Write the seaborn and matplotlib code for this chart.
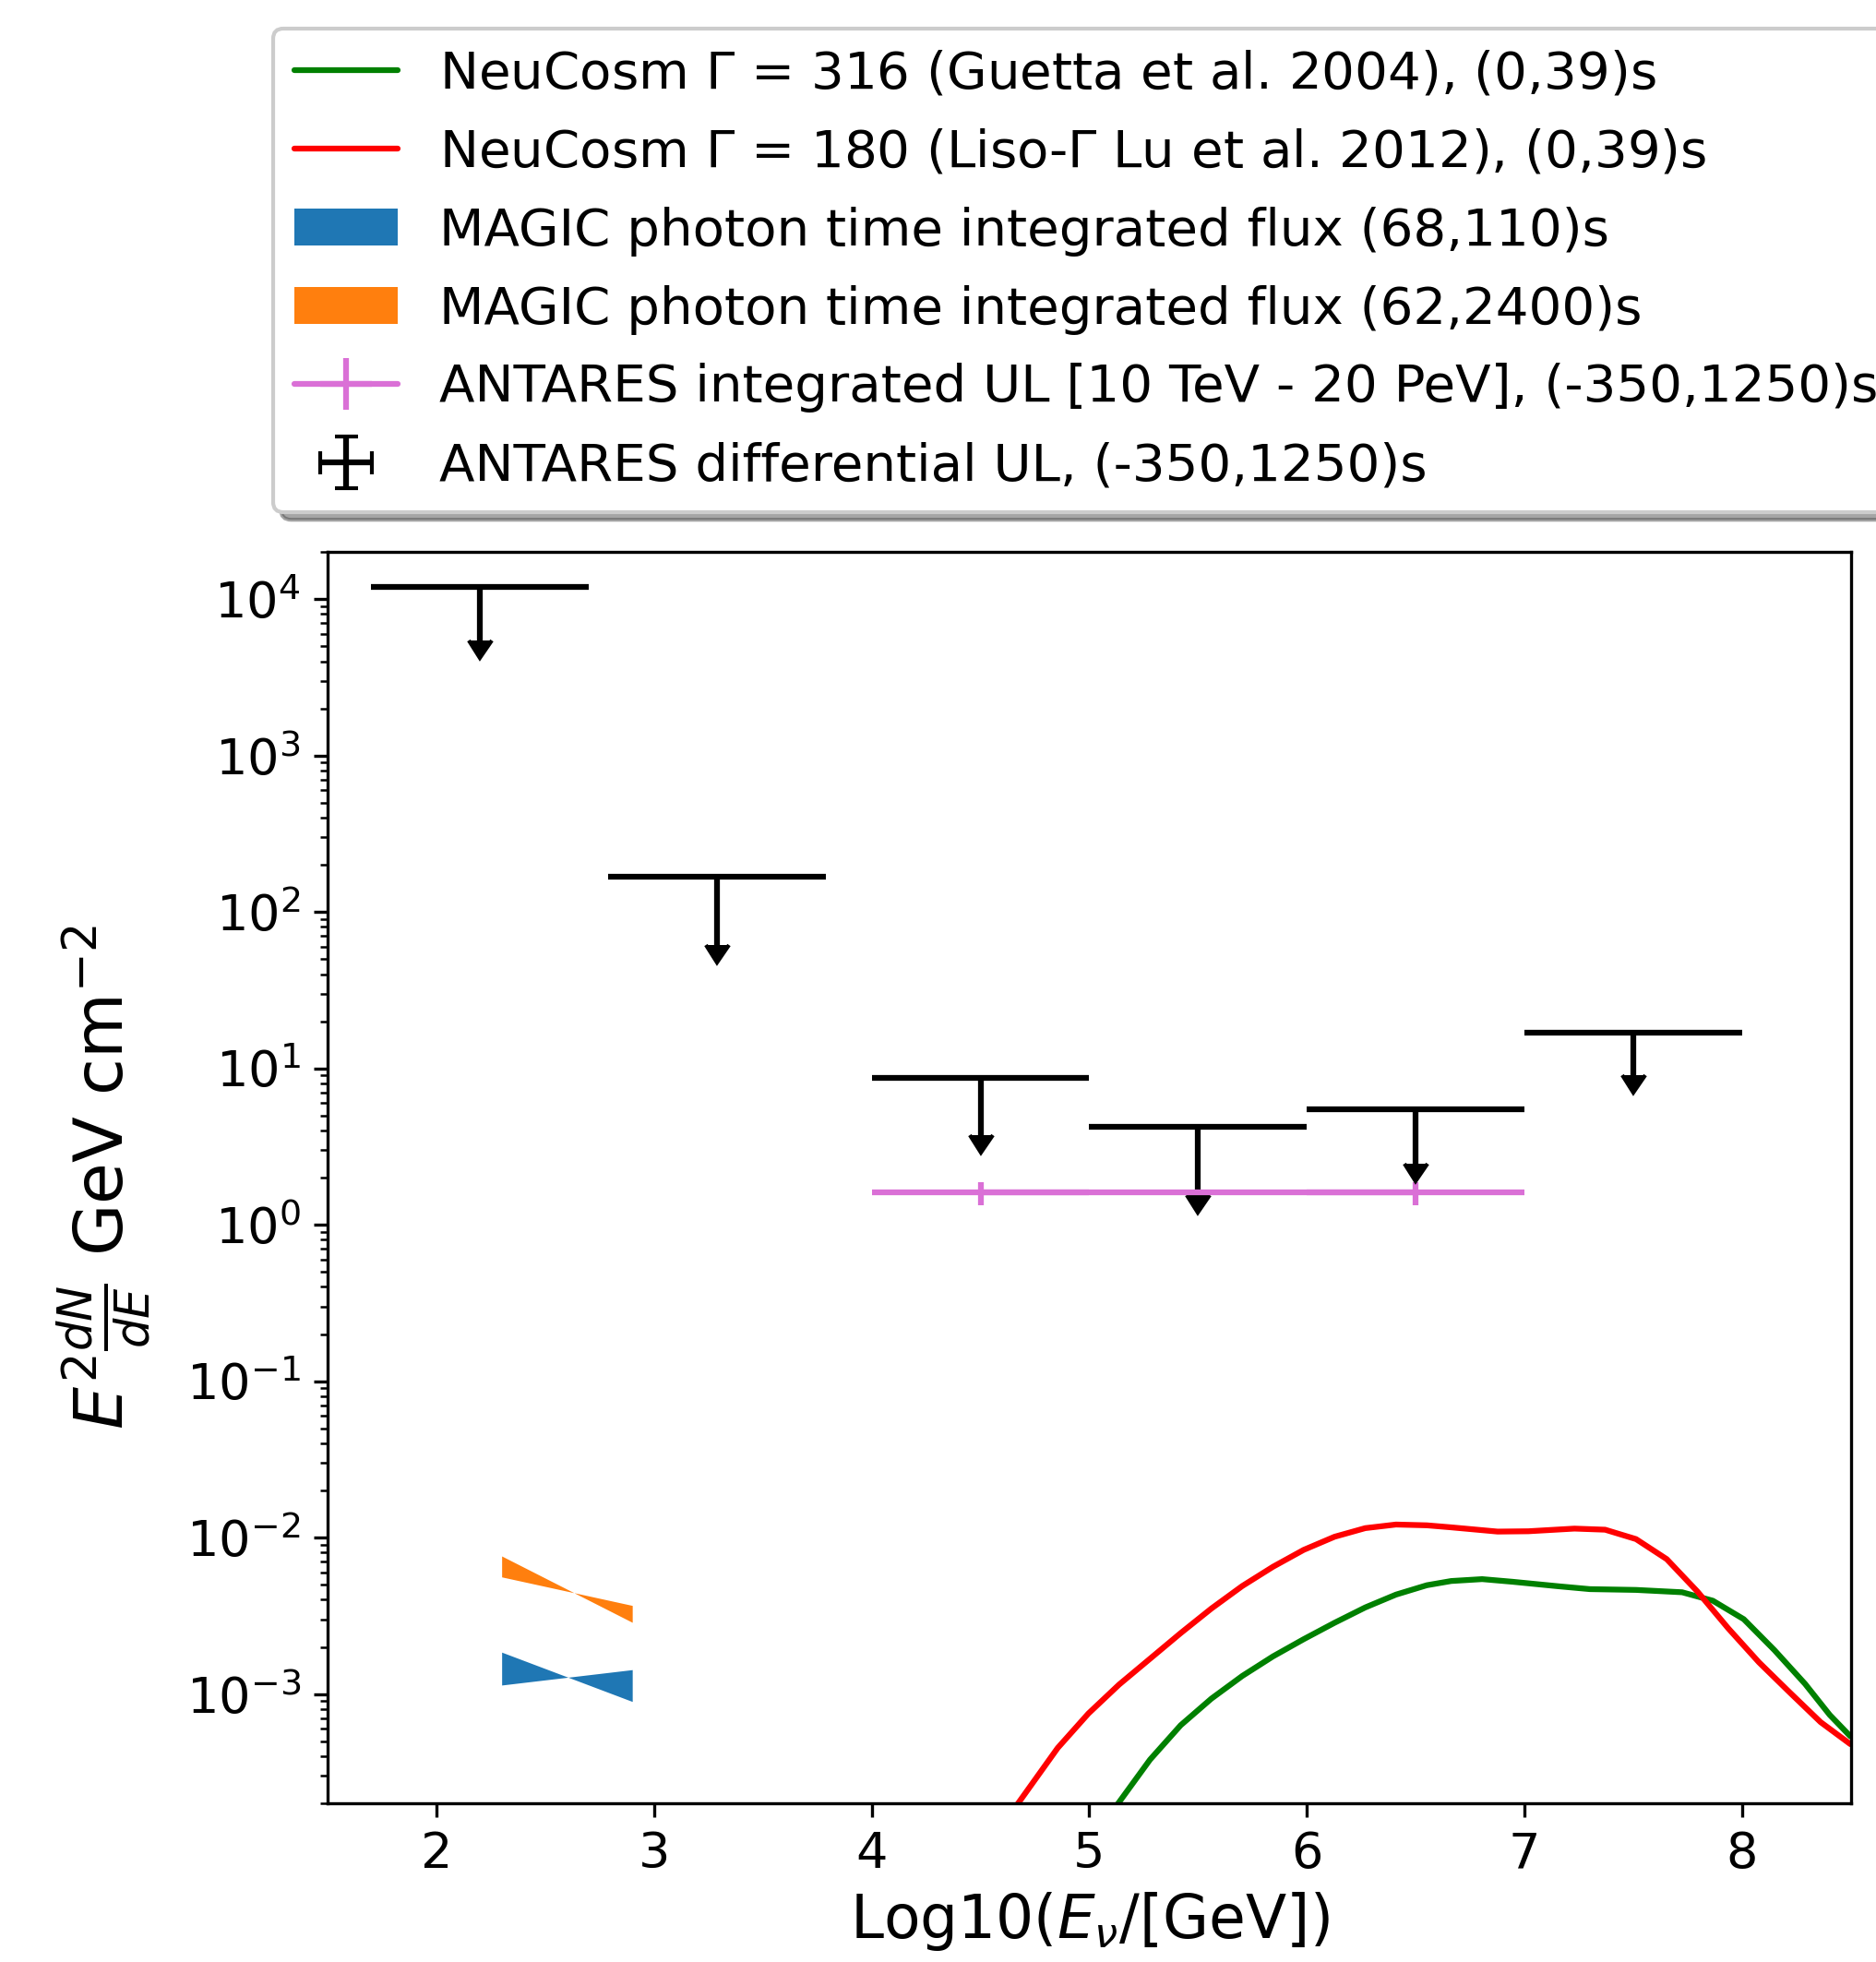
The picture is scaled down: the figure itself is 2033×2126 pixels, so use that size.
import numpy as np
import matplotlib
matplotlib.use("Agg")
import matplotlib.pyplot as plt
import seaborn as sns

# NeuCosm model curves, log10(E) vs log10(E^2 dN/dE)
red_logE = [4.67, 4.855, 4.996, 5.137, 5.279, 5.42, 5.561, 5.703, 5.844, 5.985,
            6.127, 6.268, 6.409, 6.551, 6.663, 6.876, 7.017, 7.229, 7.37, 7.512,
            7.653, 7.794, 7.936, 8.077, 8.218, 8.36, 8.497]
red_logF = [-3.705, -3.345, -3.125, -2.94, -2.775, -2.611, -2.454, -2.31, -2.187, -2.079,
            -1.995, -1.94, -1.917, -1.922, -1.935, -1.962, -1.96, -1.943, -1.95, -2.01,
            -2.138, -2.345, -2.581, -2.798, -2.99, -3.18, -3.321]
green_logE = [5.13, 5.279, 5.42, 5.561, 5.703, 5.844, 5.985, 6.127, 6.268, 6.409,
              6.551, 6.663, 6.805, 6.946, 7.158, 7.3, 7.512, 7.724, 7.865, 8.007,
              8.148, 8.289, 8.402, 8.497]
green_logF = [-3.705, -3.42, -3.2, -3.03, -2.885, -2.76, -2.65, -2.545, -2.447, -2.365,
              -2.305, -2.278, -2.266, -2.283, -2.312, -2.33, -2.335, -2.35, -2.404, -2.522,
              -2.72, -2.936, -3.134, -3.271]

# MAGIC photon bow-ties (two power laws crossing at the pivot)
magic_logE = [2.3, 2.9]
magic_a_68 = [1.85e-3, 8.95e-4]
magic_b_68 = [1.14e-3, 1.43e-3]
magic_a_62 = [7.62e-3, 2.87e-3]
magic_b_62 = [5.6e-3, 3.68e-3]

# ANTARES integrated UL
int_logE = [4.5, 6.5]
int_ul = [1.61, 1.61]
int_xerr = 0.5
int_yerr = 0.27

# ANTARES differential UL
diff_logE = [2.2, 3.29, 4.5, 5.5, 6.5, 7.5]
diff_ul = [1.19e4, 167.6, 8.73, 4.24, 5.45, 16.9]
diff_yerr = [6450, 106, 5.0, 2.7, 3.0, 7.9]
diff_xerr = 0.5

labels = [
    r"NeuCosm $\Gamma$ = 316 (Guetta et al. 2004), (0,39)s",
    r"NeuCosm $\Gamma$ = 180 (Liso-$\Gamma$ Lu et al. 2012), (0,39)s",
    "MAGIC photon time integrated flux (68,110)s",
    "MAGIC photon time integrated flux (62,2400)s",
    "ANTARES integrated UL [10 TeV - 20 PeV], (-350,1250)s",
    "ANTARES differential UL, (-350,1250)s",
]

sns.set_style("ticks")
plt.rcParams['font.family'] = ['DejaVu Sans']
plt.rcParams.update({
    'xtick.major.size': 3.5, 'ytick.major.size': 3.5, 'ytick.minor.size': 2,
    'axes.linewidth': 0.8, 'axes.edgecolor': 'black', 'text.color': 'black',
    'axes.labelcolor': 'black', 'xtick.color': 'black', 'ytick.color': 'black',
})

fig = plt.figure(figsize=(2033 / 300, 2126 / 300), dpi=300)
ax = fig.add_axes([0.1746, 0.0809, 0.8121, 0.6378])

sns.lineplot(x=green_logE, y=10 ** np.array(green_logF), color='green', lw=1.5, ax=ax, legend=False)
sns.lineplot(x=red_logE, y=10 ** np.array(red_logF), color='red', lw=1.5, ax=ax, legend=False)
h_green, h_red = ax.get_lines()[:2]

h_blue = ax.fill_between(magic_logE, magic_a_68, magic_b_68, color='#1f77b4', lw=0)
h_orange = ax.fill_between(magic_logE, magic_a_62, magic_b_62, color='#ff7f0e', lw=0)

h_int = ax.errorbar(int_logE, int_ul, xerr=int_xerr, yerr=int_yerr, color='orchid', lw=1.5)
h_diff = ax.errorbar(diff_logE, diff_ul, xerr=diff_xerr, yerr=diff_yerr, uplims=True,
                     fmt='none', color='black', elinewidth=1.5)

ax.set_yscale('log')
ax.set_xlim(1.5, 8.5)
ax.set_ylim(2e-4, 2e4)
ax.tick_params(labelsize=13)
ax.set_xlabel(r"Log10($E_{\nu}$/[GeV])", fontsize=15.5, labelpad=3)
ax.set_ylabel(r"$E^2\frac{dN}{dE}$ GeV cm$^{-2}$", fontsize=17.5, labelpad=8.5)

ax.legend([h_green, h_red, h_blue, h_orange, h_int, h_diff], labels,
          loc='lower left', bbox_to_anchor=(0.1456, 0.739), bbox_transform=fig.transFigure,
          borderaxespad=0, fontsize=13.5, labelspacing=0.55, shadow=True)

fig.savefig("out.png", dpi=300)
